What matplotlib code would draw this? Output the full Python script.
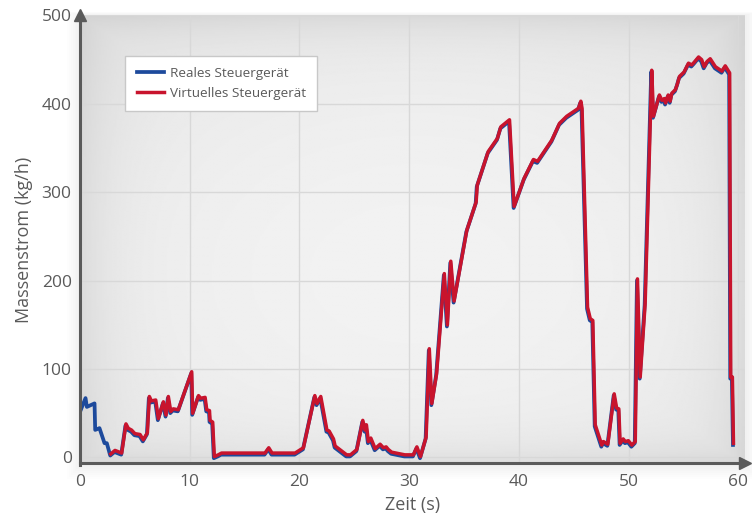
"""Massenstrom: reales vs. virtuelles Steuergeraet"""

import matplotlib
matplotlib.use('Agg')
import matplotlib.pyplot as plt
import matplotlib.transforms as mtransforms
from matplotlib.patches import Rectangle
import numpy as np

# data (time in s, mass flow in kg/h)
zeit = [0.0, 0.55, 0.67, 1.37, 1.43, 1.82, 2.28, 2.49, 2.8, 3.19, 3.8, 4.19, 4.4, 4.7, 5.0,
        5.47, 5.77, 6.14, 6.32, 6.5, 6.9, 7.14, 7.6, 7.84, 8.05, 8.27, 8.5, 8.96, 10.18,
        10.27, 10.8, 11.0, 11.4, 11.55, 11.8, 11.85, 12.09, 12.24, 12.6, 12.9, 16.86, 17.2,
        17.5, 19.6, 20.36, 21.4, 21.6, 21.94, 22.5, 22.7, 23.1, 23.25, 24.3, 24.65, 25.23,
        25.77, 25.98, 26.1, 26.28, 26.5, 26.7, 26.9, 27.35, 27.65, 27.9, 28.1, 28.4, 29.17,
        29.6, 30.38, 30.7, 31.03, 31.54, 31.83, 32.06, 32.5, 33.2, 33.48, 33.79, 34.09,
        35.25, 36.1, 36.2, 37.2, 38.04, 38.35, 39.14, 39.56, 40.48, 41.32, 41.7, 43.0, 43.7,
        44.36, 45.43, 45.64, 45.75, 46.25, 46.5, 46.73, 46.95, 47.55, 47.7, 48.1, 48.35,
        48.68, 48.9, 49.1, 49.22, 49.5, 49.7, 49.97, 50.29, 50.6, 50.8, 51.05, 51.5, 52.1,
        52.26, 52.8, 53.03, 53.25, 53.36, 53.6, 53.78, 53.93, 54.26, 54.45, 54.63, 55.05,
        55.45, 55.75, 55.97, 56.37, 56.65, 56.88, 57.15, 57.43, 57.9, 58.5, 58.8, 59.2,
        59.3, 59.45, 59.55]
massenstrom = [52, 69, 59, 63, 33, 35, 18, 18, 4, 8, 5, 38, 33, 31, 27,
               26, 20, 28, 69, 64, 65, 44, 63, 48, 69, 52, 55, 54, 97,
               50, 70, 67, 68, 54, 53, 42, 40, 1, 3, 5, 5, 11,
               5, 5, 11, 70, 61, 69, 31, 30, 21, 13, 3, 3, 9,
               42, 31, 37, 18, 22, 16, 10, 15, 11, 12, 9, 6, 4,
               3, 3, 12, 1, 23, 123, 61, 95, 208, 150, 222, 177,
               257, 289, 308, 346, 361, 374, 382, 284, 316, 337, 335, 359, 378,
               386, 395, 403, 395, 170, 157, 155, 37, 14, 18, 15, 40,
               72, 56, 55, 16, 21, 18, 19, 14, 18, 202, 91, 174, 438,
               386, 410, 404, 406, 401, 410, 403, 412, 416, 423, 431, 436,
               446, 444, 447, 453, 450, 442, 448, 451, 442, 437, 443, 435,
               91, 91, 16]

# the virtual ECU trace only starts being recorded at 2.8 s
start_virtuell = 2.8
i0 = zeit.index(start_virtuell)
zeit_virt = zeit[i0:]
massenstrom_virt = massenstrom[i0:]

x_ticks = [0, 10, 20, 30, 40, 50, 60]
y_ticks = [0, 100, 200, 300, 400, 500]

label_real = 'Reales Steuergerät'
label_virt = 'Virtuelles Steuergerät'

plt.rcParams['font.family'] = ['Open Sans', 'DejaVu Sans']
grau = '#5a5a5a'

fig = plt.figure(figsize=(7.52, 5.2), dpi=100)
ax = fig.add_axes([80 / 752, 55 / 520, 665 / 752, 450 / 520])

# very soft drop shadow around the plot area
pos = ax.get_position()
for k in range(1, 8):
    d = k * 0.003
    fig.patches.append(Rectangle((pos.x0 - d * 0.8, pos.y0 - d * 1.3),
                                 pos.width + d * 1.6, pos.height + d * 1.6,
                                 transform=fig.transFigure, facecolor='black',
                                 alpha=0.008, edgecolor='none', zorder=-10))

# light radial grey background with a darker rim
gx, gy = np.meshgrid(np.linspace(-1, 1, 400), np.linspace(-1, 1, 400))
r2 = (gx ** 2 + (gy - 0.15) ** 2) / 2
rim = np.maximum(np.abs(gx), np.abs(gy)) ** 10
bg = 0.948 - 0.055 * r2 - 0.06 * rim
ax.imshow(bg, cmap='gray', vmin=0, vmax=1, extent=[0, 1, 0, 1],
          transform=ax.transAxes, aspect='auto', zorder=0, interpolation='bilinear')

# lines, blue drawn a bit lower so it peeks out underneath the red one
off = mtransforms.offset_copy(ax.transData, fig=fig, x=-0.5, y=-1.6, units='dots')
ax.plot(zeit, massenstrom, color='#1d4a9c', lw=2.7, transform=off, zorder=3,
        label=label_real, solid_joinstyle='round')
ax.plot(zeit_virt, massenstrom_virt, color='#c8142d', lw=2.5, zorder=4,
        label=label_virt, solid_joinstyle='round')

ax.set_xlim(0, 60.6)
ax.set_ylim(-8.5, 500.5)
ax.set_xticks(x_ticks)
ax.set_yticks(y_ticks)

ax.grid(True, color='#d8d8d8', lw=1.0, zorder=1)
ax.set_axisbelow(True)

for s in ['top', 'right']:
    ax.spines[s].set_visible(False)
for s in ['left', 'bottom']:
    ax.spines[s].set_color(grau)
    ax.spines[s].set_linewidth(2.2)
    ax.spines[s].set_zorder(5)
ax.spines['bottom'].set_position(('data', -6.5))

ax.tick_params(axis='both', direction='in', length=9, width=1.8, color=grau,
               labelcolor=grau, labelsize=12.5, top=True, right=True)
ax.tick_params(axis='x', pad=8)
ax.tick_params(axis='y', pad=6)

# hide the ticks that sit on the frame edges
for t in ax.xaxis.get_major_ticks():
    if t.get_loc() in (0, 60):
        t.tick1line.set_visible(False)
        t.tick2line.set_visible(False)
for t in ax.yaxis.get_major_ticks():
    if t.get_loc() in (0, 500):
        t.tick1line.set_visible(False)
        t.tick2line.set_visible(False)

# arrow heads on the axes
ax.plot(0, 1.0, marker='^', color=grau, ms=9, transform=ax.transAxes, clip_on=False, zorder=6)
ax.plot(60.6, -6.5, marker='>', color=grau, ms=9, clip_on=False, zorder=6)

ax.set_xlabel('Zeit (s)', color=grau, fontsize=13, labelpad=4)
ax.set_ylabel('Massenstrom (kg/h)', color=grau, fontsize=13, labelpad=6)

leg = ax.legend(loc='upper left', bbox_to_anchor=(0.068, 0.910), fontsize=9.7,
                frameon=True, fancybox=False, framealpha=1, edgecolor='#c8c8c8',
                handlelength=2.0, handletextpad=0.45, borderpad=0.85, labelspacing=0.5,
                borderaxespad=0.0)
leg.get_frame().set_linewidth(1.0)
for txt in leg.get_texts():
    txt.set_color(grau)
leg.set_zorder(7)

plt.savefig('out.png', dpi=100)
